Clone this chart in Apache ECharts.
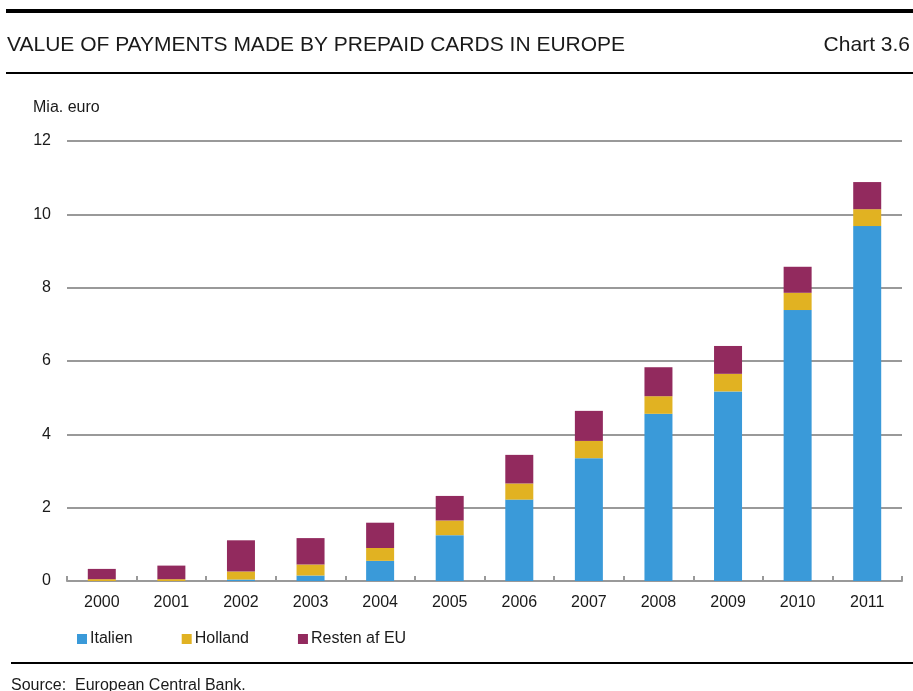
<!DOCTYPE html>
<html>
<head>
<meta charset="utf-8">
<script src="https://cdn.jsdelivr.net/npm/echarts@6/dist/echarts.min.js"></script>
<style>
  html, body { margin: 0; padding: 0; background: #fff; }
  #chart { width: 913px; height: 691px; }
</style>
</head>
<body>
<div id="chart"></div>
<script>
// Value of payments made by prepaid cards (billion euro)
const years = ['2000', '2001', '2002', '2003', '2004', '2005', '2006', '2007', '2008', '2009', '2010', '2011'];
const italien = [0.00, 0.00, 0.04, 0.15, 0.55, 1.25, 2.22, 3.35, 4.56, 5.17, 7.39, 9.68];
const holland = [0.05, 0.05, 0.22, 0.30, 0.35, 0.40, 0.44, 0.47, 0.48, 0.48, 0.47, 0.46];
const resten  = [0.28, 0.37, 0.85, 0.72, 0.69, 0.67, 0.78, 0.82, 0.79, 0.76, 0.71, 0.74];
const yTicks = [0, 2, 4, 6, 8, 10, 12];

const FONT = '"Liberation Sans", Arial, Helvetica, sans-serif';
const TXT = '#1a1a1a';

const chart = echarts.init(document.getElementById('chart'), null, { renderer: 'canvas' });

function bar(name, data, color) {
  return {
    name: name,
    type: 'bar',
    stack: 'total',
    data: data,
    barWidth: 28,
    itemStyle: { color: color },
    emphasis: { disabled: true }
  };
}

function label(text, pos, size) {
  return Object.assign({
    text: text,
    padding: 0,
    textStyle: { fontFamily: FONT, fontSize: size, fontWeight: 'normal', color: TXT }
  }, pos);
}

chart.setOption({
  animation: false,
  backgroundColor: '#fff',
  title: [
    label('VALUE OF PAYMENTS MADE BY PREPAID CARDS IN EUROPE', { left: 7, top: 35 }, 21),
    label('Chart 3.6', { right: 3, top: 35 }, 21),
    label('Mia. euro', { left: 33, top: 100 }, 16),
    label('Source:  European Central Bank.', { left: 11, top: 678 }, 16)
  ],
  graphic: [
    { type: 'rect', left: 6, top: 9, shape: { width: 907, height: 4 }, style: { fill: '#000' } },
    { type: 'rect', left: 6, top: 72, shape: { width: 907, height: 2 }, style: { fill: '#000' } },
    { type: 'rect', left: 11, top: 662, shape: { width: 902, height: 2 }, style: { fill: '#000' } }
  ],
  legend: {
    left: 77,
    top: 631,
    padding: 0,
    icon: 'rect',
    itemWidth: 10,
    itemHeight: 10,
    itemGap: 49,
    textStyle: { fontFamily: FONT, fontSize: 16, color: TXT, padding: [0, 0, 0, -2] },
    data: ['Italien', 'Holland', 'Resten af EU']
  },
  grid: { left: 67, right: 11, top: 141, bottom: 110, containLabel: false },
  xAxis: {
    type: 'category',
    data: years,
    axisLine: { lineStyle: { color: '#999', width: 2 } },
    axisTick: { show: true, inside: true, length: 5, alignWithLabel: false, lineStyle: { color: '#999', width: 2 } },
    axisLabel: { fontFamily: FONT, fontSize: 16, color: TXT, margin: 14 }
  },
  yAxis: {
    type: 'value',
    min: 0,
    max: 12,
    interval: 2,
    axisLine: { show: false },
    axisTick: { show: false },
    axisLabel: {
      fontFamily: FONT, fontSize: 16, color: TXT, margin: 16,
      formatter: v => (yTicks.indexOf(v) >= 0 ? String(v) : '')
    },
    splitLine: { lineStyle: { color: '#999', width: 2 } }
  },
  series: [
    bar('Italien', italien, '#3a9ad9'),
    bar('Holland', holland, '#e1b222'),
    bar('Resten af EU', resten, '#922a5e')
  ]
});
</script>
</body>
</html>
